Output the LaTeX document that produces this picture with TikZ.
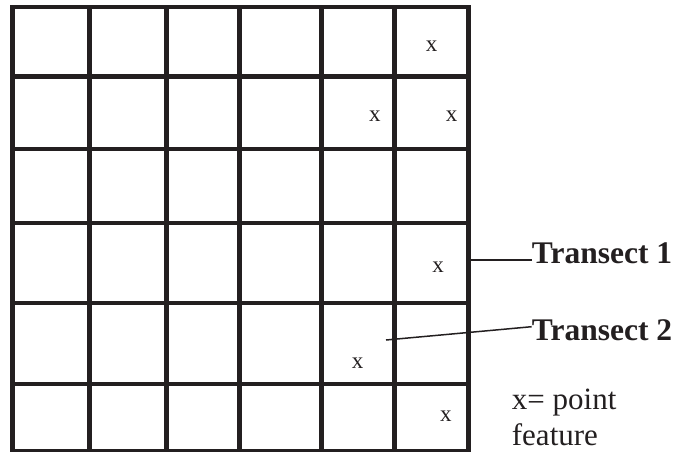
\documentclass[tikz,border=0pt]{standalone}
\usepackage{fontspec}
\setmainfont{Liberation Serif}
\definecolor{ink}{HTML}{231F20}
\begin{document}
\begin{tikzpicture}[x=1pt,y=-1pt,
  gridline/.style={draw=ink,line width=4.8pt,line cap=rect},
  xmark/.style={inner sep=0pt,anchor=center,text=ink,font=\fontsize{23}{27}\selectfont},
  label/.style={inner sep=0pt,anchor=base west,text=ink,font=\fontsize{31.5}{36}\selectfont\bfseries},
  leader/.style={draw=ink,line width=1.5pt}]
\useasboundingbox (0,0) rectangle (685,452);
% grid
\foreach \yy in {7,76.5,149,223,303,384,451.5}
  \draw[gridline] (12.5,\yy) -- (468.5,\yy);
\foreach \xx in {12.5,89.5,166.5,239.3,321.7,394.3,468.5}
  \draw[gridline] (\xx,7) -- (\xx,451.5);
% point features
\node[xmark] (p1) at (431.7,45.8) {x};
\node[xmark] (p2) at (374.8,116.7) {x};
\node[xmark] (p3) at (451.5,116.7) {x};
\node[xmark] (p4) at (438.2,267.5) {x};
\node[xmark] (p5) at (357.5,363.3) {x};
\node[xmark] (p6) at (445.8,415.8) {x};
% transect labels
\node[label] (t1) at (531.7,263.3) {Transect 1};
\node[label] (t2) at (531.7,340) {Transect 2};
\coordinate (s1) at (471,260);
\coordinate (s2) at (386,340);
\draw[leader] (s1) -- ([yshift=3.3pt]t1.base west);
\draw[leader] (s2) -- ([yshift=13.3pt]t2.base west);
% legend
\node[inner sep=0pt,anchor=base west,align=left,text=ink,font=\fontsize{31}{36}\selectfont] (leg) at (511.7,445.5) {x= point\\feature};
\end{tikzpicture}
\end{document}
